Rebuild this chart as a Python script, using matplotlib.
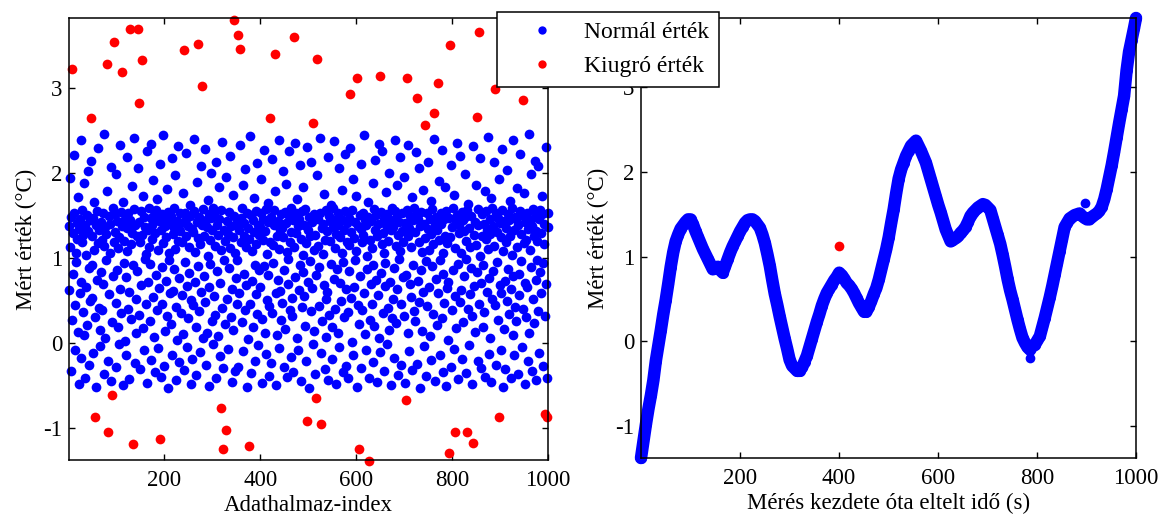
import numpy as np
import matplotlib
matplotlib.use("Agg")
import matplotlib.pyplot as plt
from matplotlib.lines import Line2D

plt.rcParams['font.family'] = ['Liberation Serif', 'DejaVu Serif']
plt.rcParams['font.size'] = 16.5
plt.rcParams['axes.unicode_minus'] = False

# ---------------- data: left panel (index vs. value) ----------------
outlier_high_idx = [8, 46, 81, 94, 112, 129, 144, 146, 154, 240, 269, 279, 346, 354, 358,
                    421, 431, 471, 519, 510, 588, 602, 650, 706, 727, 744, 763, 771, 796,
                    856, 852, 890, 948]
outlier_high_val = [3.22, 2.64, 3.28, 3.54, 3.19, 3.69, 3.69, 2.82, 3.33, 3.44, 3.51, 3.02, 3.80,
                    3.62, 3.46, 2.64, 3.40, 3.60, 3.34, 2.58, 2.93, 3.11, 3.14, 3.11, 2.88, 2.56,
                    2.70, 3.05, 3.50, 3.65, 2.65, 2.99, 2.85]
outlier_low_idx = [90, 56, 83, 135, 190, 319, 329, 323, 377, 517, 498, 527, 606, 627, 704,
                   794, 806, 831, 844, 898, 994, 998]
outlier_low_val = [-0.61, -0.87, -1.05, -1.19, -1.13, -0.77, -1.03, -1.25, -1.21, -0.65, -0.92,
                   -0.96, -1.25, -1.39, -0.67, -1.30, -1.05, -1.05, -1.18, -0.87, -0.84, -0.87]

normal_val = [
    0.62, 1.37, 1.12, 1.94, -0.33, 1.48, 0.27, 0.81, 1.29, 2.21, 1.53, -0.08, 0.44, 1.06, 0.95, 1.41, 1.22, 1.71, 0.13, -0.49, 1.34, 0.58,
    1.45, -0.18, 2.38, 0.71, 1.18, 1.56, 0.36, 1.27, 1.88, 0.09, -0.41, 1.39, 1.03, 0.66, 1.50, 0.21, 2.02, 1.31, -0.26, 0.88, 1.44, 0.49,
    2.14, 1.26, 0.53, 0.92, -0.12, 1.47, 1.09, 1.65, 0.30, 1.38, -0.52, 0.74, 1.55, 1.17, 2.29, 1.33, 0.41, -0.04, 0.15, 1.42, 0.83, 1.21,
    0.38, 0.69, 1.52, -0.37, 1.14, 2.45, 1.36, 0.06, 1.28, 0.97, 1.79, -0.22, 1.49, 0.57, 1.05, 1.40, -0.45, 2.07, 0.24, 1.58, 0.79, 1.19,
    1.30, 1.51, -0.29, 0.47, 1.98, 0.86, 1.43, 1.11, 0.19, -0.01, 1.24, 2.33, 0.63, 1.54, 0.35, 1.37, 1.66, -0.50, 0.94, 1.20, 1.46, 0.02,
    -0.15, 0.77, 1.35, 2.19, 1.08, 1.52, 0.40, -0.43, 0.60, 1.44, 1.16, 0.28, 1.84, 1.29, 0.91, 2.41, 1.57, -0.24, 1.39, 0.51, 0.11, 1.25,
    0.84, 2.06, 1.42, 0.33, 1.19, -0.31, 1.55, 0.68, 1.27, 1.73, 0.17, 1.48, -0.09, 0.99, 1.36, 1.04, 0.45, 2.26, -0.47, 1.32, 0.72, 1.59,
    1.13, 0.25, 0.93, 1.47, 2.34, -0.20, 1.38, 1.22, 0.54, 1.91, 1.50, 0.07, -0.35, 1.29, 0.80, 1.56, 1.69, 0.39, 1.09, -0.06, 1.43, 0.64,
    2.10, -0.40, 1.33, 1.51, 0.46, 0.89, 1.17, 2.44, 1.45, -0.27, 0.14, 1.37, 0.73, 1.24, 1.81, 0.31, 1.54, -0.53, 1.06, 0.97, 1.40, 0.58,
    0.22, 1.49, -0.14, 2.17, 1.28, 0.61, 1.35, 1.58, 0.87, 1.10, 1.97, -0.44, 0.42, 1.43, 0.03, 2.31, 1.20, 0.76, -0.23, 1.52, 1.31, 0.35,
    1.41, 0.56, 1.18, 1.76, 0.10, -0.32, 1.53, 0.95, 1.26, 1.46, 2.23, 0.67, -0.05, 1.37, 0.29, 1.12, 0.82, 1.62, 1.49, -0.48, 0.50, 1.34,
    -0.19, 1.30, 0.44, 1.55, 2.40, 1.07, 0.71, 0.18, -0.38, 1.42, 1.89, 1.23, 0.90, 1.48, 0.37, -0.11, 1.16, 2.08, 0.60, 1.38, 0.05, 1.57,
    0.79, 1.25, 2.28, 0.48, 1.44, -0.26, 0.12, 1.36, 1.02, 1.68, 0.65, 1.51, -0.51, 1.21, 0.93, 1.47, 2.00, 1.32, 0.26, -0.02, 1.59, 0.55,
    1.50, 1.14, 0.33, -0.42, 2.13, 1.39, 0.84, 1.27, 0.08, 1.83, 1.45, -0.16, 0.70, 1.56, 1.09, 0.41, 2.36, -0.30, 1.33, 0.97, 1.20, 0.22,
    1.95, 0.52, 1.43, 1.28, -0.07, 0.88, 1.54, 2.20, 1.11, 0.30, 1.37, 0.63, -0.46, 1.24, 1.74, 0.15, 1.49, 1.05, -0.33, 0.76, 1.40, 0.45,
    0.97, -0.28, 1.32, 0.59, 2.32, 1.47, 1.19, 0.24, 1.58, 1.86, -0.10, 0.81, 1.26, 1.41, 0.39, 2.04, 1.13, 0.68, -0.52, 1.52, 1.35, 0.04,
    1.22, 2.43, 0.46, 1.50, -0.36, 1.08, 0.73, 0.19, 1.44, 1.70, 1.30, -0.21, 0.92, 1.55, 0.57, 1.16, 2.11, 0.34, 1.39, -0.03, 0.85, 1.27,
    0.66, 1.36, 1.53, 1.92, 0.28, -0.47, 1.21, 1.45, 0.90, 2.27, 0.12, 1.31, -0.13, 1.57, 0.50, 1.04, 1.64, 1.42, 0.80, -0.39, 0.43, 1.18,
    -0.24, 1.48, 0.35, 2.16, 1.15, 0.94, 1.38, 1.56, 1.78, 0.58, -0.50, 1.26, 0.09, 1.43, 0.74, 1.10, -0.06, 2.39, 1.33, 0.61, 0.27, 1.51,
    1.35, 0.47, 2.02, 1.24, -0.29, 0.86, 1.54, 0.16, 1.41, 1.87, 1.07, -0.40, 0.69, 0.98, 1.49, 2.25, 1.19, 0.38, -0.17, 1.58, 1.30, 0.53,
    0.31, 1.44, -0.34, 1.13, 2.35, 0.77, 1.52, 1.29, 0.05, 1.69, -0.08, 1.37, 0.62, 1.46, 0.91, 2.09, 1.22, -0.45, 1.55, 0.42, 1.03, 0.83,
    1.83, 1.39, 0.55, 1.57, 0.20, -0.22, 1.17, 2.30, 0.72, 1.32, 1.48, -0.53, 0.96, 1.25, 2.12, 0.37, 1.42, 0.64, -0.01, 1.09, 1.51, 0.14,
    1.27, -0.37, 0.80, 1.97, 1.45, 1.14, 0.43, 0.89, 1.53, 2.41, -0.12, 1.35, 0.25, 1.04, 1.40, 0.68, 1.75, -0.31, 1.21, 0.51, 1.56, 0.07,
    0.60, 1.31, 2.18, -0.44, 1.49, 0.33, 1.20, 1.43, 0.93, 1.62, 0.18, -0.19, 1.36, 1.58, 0.75, 2.37, 1.11, 0.40, -0.49, 1.28, 1.46, 0.87,
    1.52, 0.12, 1.38, -0.05, 2.05, 0.70, 1.24, 0.49, 1.45, 1.80, 1.06, -0.35, 0.95, 1.33, 0.30, 1.55, 2.22, -0.27, 0.63, 1.19, 1.41, 0.36,
    -0.42, 0.84, 1.47, 1.15, 2.29, 0.53, 1.30, 0.01, 1.56, 1.93, -0.15, 0.66, 1.23, 1.42, 0.97, 1.08, 1.72, -0.52, 1.37, 0.44, 0.22, 1.50,
    0.78, 2.10, 1.34, -0.30, 1.18, 0.38, 1.53, 1.27, 0.59, 2.44, 1.44, 0.10, -0.08, 1.39, 1.02, 0.87, 1.66, 1.48, -0.41, 0.27, 1.21, 0.69,
    1.43, 1.11, 0.46, 1.88, -0.23, 0.91, 1.57, 0.20, 1.32, 2.15, 0.74, 1.50, -0.46, 1.25, 0.56, 1.40, 2.34, 0.06, -0.11, 1.54, 0.82, 1.16,
    2.26, 0.35, 1.29, 1.46, -0.33, 1.05, 0.67, 0.94, 1.38, 1.77, 1.51, -0.02, 0.41, 1.20, 0.15, 2.00, 1.44, 0.72, -0.50, 1.33, 1.58, 0.29,
    0.52, 1.36, -0.18, 0.88, 2.38, 1.55, 1.14, 0.23, 1.47, 1.85, 0.63, -0.38, 1.27, 1.42, 0.99, 2.19, 1.08, -0.26, 0.45, 1.52, 1.31, 0.77,
    1.19, 1.95, 0.32, -0.47, 1.41, 0.80, 1.56, 1.25, 2.32, 0.11, 1.35, -0.10, 0.69, 1.49, 0.54, 1.12, 1.71, -0.32, 1.44, 0.92, 0.37, 1.58,
    0.26, 1.30, 1.50, 2.24, -0.25, 0.73, 1.45, 0.48, 1.18, 2.06, 1.37, -0.53, 0.85, 1.54, 1.07, 0.14, 1.80, 0.60, -0.04, 1.40, 1.23, 0.96,
    -0.39, 1.52, 0.43, 2.13, 1.34, 1.09, 0.65, 1.46, 0.08, 1.67, -0.20, 1.28, 0.90, 1.57, 1.16, 0.34, 2.40, 1.39, -0.45, 0.75, 1.48, 0.21,
    1.33, 0.58, 1.90, 1.21, -0.14, 0.97, 1.53, 1.40, 0.29, 2.27, 1.06, 0.81, -0.34, 1.45, 0.47, 1.26, 1.83, -0.51, 1.55, 0.64, 1.17, 0.03,
    0.71, 1.47, 1.24, -0.28, 2.09, 0.39, 1.36, 0.86, 1.58, 1.74, -0.07, 1.11, 0.55, 1.43, 0.17, 1.50, 2.35, 0.93, -0.43, 1.29, 1.39, 0.48,
    2.20, 1.05, 0.62, 1.54, -0.19, 0.24, 1.44, 1.31, 0.79, 1.98, 1.48, -0.36, 0.98, 1.20, 1.56, 0.40, 1.63, -0.03, 1.35, 0.57, 1.13, 0.88,
    1.49, -0.48, 0.32, 2.31, 1.27, 0.67, 1.42, 0.13, 1.15, 1.86, 0.83, 1.57, -0.22, 1.38, 0.45, 1.02, 2.17, 0.70, -0.30, 1.51, 1.25, 0.19,
    0.92, 0.36, 1.40, 1.79, -0.40, 1.22, 1.55, 0.60, 1.33, 2.42, 1.10, -0.13, 0.76, 0.05, 1.46, 1.28, 1.70, -0.46, 1.59, 0.51, 1.37, 0.84,
    1.14, 2.12, 0.44, -0.26, 1.53, 0.95, 1.30, 1.47, 0.27, 1.93, 1.41, 0.68, -0.09, 1.24, 0.59, 1.56, 2.28, 1.08, -0.52, 0.16, 1.43, 0.73,
    -0.31, 1.35, 1.19, 0.49, 2.03, 0.87, 1.51, 0.34, 1.44, 1.67, 1.26, -0.41, 0.63, 1.58, 1.03, 0.09, 2.38, 0.78, -0.15, 1.32, 1.48, 0.42,
    1.46, 0.25, 1.82, 1.12, -0.37, 1.39, 0.81, 0.56, 1.55, 2.22, 0.96, 1.28, -0.05, 1.50, 0.40, 1.17, 1.76, -0.49, 0.70, 1.42, 1.21, 0.30,
    0.65, 1.53, -0.21, 1.34, 2.46, 0.11, 1.43, 1.09, 0.89, 1.99, 1.37, -0.33, 0.52, 1.57, 0.23, 1.25, 2.14, 1.48, -0.44, 0.74, 1.31, 0.97,
    1.20, 2.08, 0.37, 1.45, -0.12, 0.83, 1.56, 0.58, 1.29, 1.72, 1.51, -0.27, 0.94, 1.40, 1.16, 0.31, 2.30, 0.69, -0.42, 1.36, 1.52,
]

# ---------------- data: right panel (time series) ----------------
curve_t = list(range(1, 1000, 5)) + [1000]
curve_v = [
    -1.38, -1.18, -0.98, -0.80, -0.64, -0.46, -0.23, -0.05, 0.13, 0.32,
    0.49, 0.68, 0.88, 1.05, 1.18, 1.26, 1.33, 1.37, 1.41, 1.44,
    1.44, 1.38, 1.30, 1.23, 1.16, 1.09, 1.03, 0.97, 0.91, 0.85,
    0.86, 0.88, 0.84, 0.81, 0.89, 0.97, 1.05, 1.12, 1.18, 1.24,
    1.30, 1.35, 1.40, 1.43, 1.44, 1.44, 1.42, 1.38, 1.34, 1.26,
    1.16, 1.03, 0.89, 0.72, 0.56, 0.43, 0.29, 0.16, 0.03, -0.09,
    -0.22, -0.29, -0.32, -0.35, -0.35, -0.31, -0.24, -0.17, -0.07, 0.03,
    0.13, 0.23, 0.32, 0.42, 0.50, 0.57, 0.62, 0.67, 0.72, 0.76,
    0.81, 0.78, 0.74, 0.69, 0.66, 0.62, 0.57, 0.51, 0.45, 0.40,
    0.35, 0.35, 0.41, 0.48, 0.56, 0.63, 0.73, 0.85, 0.97, 1.09,
    1.23, 1.40, 1.56, 1.75, 1.92, 2.03, 2.11, 2.19, 2.25, 2.31,
    2.34, 2.37, 2.31, 2.25, 2.18, 2.11, 2.01, 1.91, 1.81, 1.71,
    1.61, 1.52, 1.42, 1.32, 1.25, 1.18, 1.20, 1.22, 1.24, 1.28,
    1.31, 1.35, 1.41, 1.48, 1.52, 1.55, 1.58, 1.60, 1.62, 1.61,
    1.58, 1.55, 1.45, 1.35, 1.25, 1.15, 1.02, 0.88, 0.73, 0.60,
    0.49, 0.37, 0.25, 0.14, 0.04, -0.02, -0.07, -0.10, -0.06, -0.04,
    0.01, 0.06, 0.17, 0.28, 0.40, 0.52, 0.65, 0.79, 0.93, 1.07,
    1.21, 1.35, 1.40, 1.45, 1.47, 1.49, 1.50, 1.51, 1.48, 1.46,
    1.44, 1.44, 1.47, 1.49, 1.51, 1.54, 1.59, 1.68, 1.80, 1.94,
    2.08, 2.24, 2.41, 2.58, 2.74, 2.90, 3.20, 3.42, 3.56, 3.70,
    3.82,
]
extra_t = [786, 898]
extra_v = [-0.20, 1.63]
right_outlier_t = [401]
right_outlier_v = [1.12]

x_ticks = [200, 400, 600, 800, 1000]
y_ticks = [-1, 0, 1, 2, 3]
ylabel = 'Mért érték (°C)'
xlabel_left = 'Adathalmaz-index'
xlabel_right = 'Mérés kezdete óta eltelt idő (s)'
legend_labels = ['Normál érték', 'Kiugró érték']

BLUE = (0, 0, 1)
RED = (1, 0, 0)

# ---------------- figure ----------------
W, H = 1158, 520
fig = plt.figure(figsize=(W / 100, H / 100), dpi=100)
ax1 = fig.add_axes([69 / W, 60 / H, 479 / W, 442 / H])
ax2 = fig.add_axes([641 / W, 62 / H, 495 / W, 440 / H])

outlier_all = set(outlier_high_idx) | set(outlier_low_idx)
normal_idx = [i for i in range(1, 1001) if i not in outlier_all]
n = min(len(normal_idx), len(normal_val))

MS = 7.0
ax1.plot(normal_idx[:n], normal_val[:n], 'o', color=BLUE, ms=MS, mew=0, clip_on=False)
ax1.plot(outlier_high_idx, outlier_high_val, 'o', color=RED, ms=MS, mew=0, clip_on=False)
ax1.plot(outlier_low_idx, outlier_low_val, 'o', color=RED, ms=MS, mew=0, clip_on=False)

ax2.plot(curve_t, curve_v, '-', color=BLUE, lw=9, solid_capstyle='round',
         solid_joinstyle='round', clip_on=False)
ax2.plot(curve_t, curve_v, 'o', color=BLUE, ms=8, mew=0, clip_on=False)
ax2.plot(extra_t, extra_v, 'o', color=BLUE, ms=MS, mew=0, clip_on=False)
ax2.plot(right_outlier_t, right_outlier_v, 'o', color=RED, ms=MS, mew=0, clip_on=False, zorder=5)

for ax, xl in ((ax1, xlabel_left), (ax2, xlabel_right)):
    ax.set_xlim(1, 1000)
    ax.set_ylim(-1.38, 3.82)
    ax.set_xticks(x_ticks)
    ax.set_yticks(y_ticks)
    ax.tick_params(direction='in', length=4, width=1, top=True, right=True,
                   labelsize=16.5, colors='black')
    ax.tick_params(axis='x', pad=7)
    ax.tick_params(axis='y', pad=5)
    for s in ax.spines.values():
        s.set_linewidth(1.1)
    ax.set_xlabel(xl, fontsize=16.5, labelpad=3)
    ax.set_ylabel(ylabel, fontsize=16.5, labelpad=4)

handles = [Line2D([], [], marker='o', color=BLUE, ls='none', ms=6, mew=0),
           Line2D([], [], marker='o', color=RED, ls='none', ms=6, mew=0)]
leg = fig.legend(handles, legend_labels, loc='upper left',
                 bbox_to_anchor=(497 / W, 1 - 12 / H), borderaxespad=0,
                 frameon=True, fancybox=False, framealpha=1, edgecolor='black',
                 fontsize=17, handlelength=3.0, handletextpad=0.3,
                 borderpad=0.4, labelspacing=0.55)
leg.get_frame().set_linewidth(1.1)

fig.savefig('out.png', dpi=100)
